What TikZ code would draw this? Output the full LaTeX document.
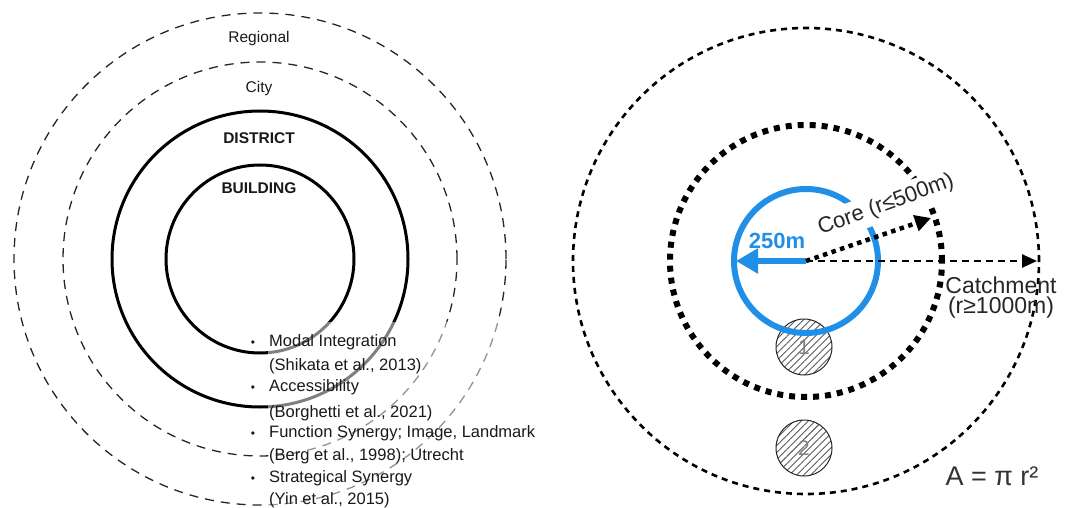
\documentclass[tikz,border=0pt]{standalone}
\usepackage{fontspec}
\setmainfont{Liberation Sans}
\usetikzlibrary{arrows.meta,patterns.meta,calc}
\definecolor{skyblue}{HTML}{1F8FE8}
\begin{document}
\begin{tikzpicture}[x=1pt,y=-1pt,
  thindash/.style={draw=black!85, line width=1.3pt, dash pattern=on 9pt off 7pt},
  solidring/.style={draw=black, line width=3pt},
  ringlabel/.style={font=\fontsize{15.5}{18}\selectfont, text=black!90, inner sep=0pt},
  boldlabel/.style={ringlabel, font=\fontsize{15.5}{18}\selectfont\bfseries},
  itemtext/.style={anchor=base west, inner sep=0pt, text=black!90, font=\fontsize{16.5}{19}\selectfont},
  bulletmark/.style={anchor=base, inner sep=0pt, text=black!90, font=\fontsize{12}{14}\selectfont},
  outerring/.style={draw=black, line width=2.6pt, dash pattern=on 6pt off 5pt},
  corering/.style={draw=black, line width=6pt, dash pattern=on 6pt off 6pt},
  hatchcirc/.style={circle, draw=black!85, line width=1pt, minimum size=56pt, inner sep=0pt,
    pattern={Lines[angle=45,distance=5pt,line width=0.9pt]}, pattern color=black!65,
    text=black!50, font=\fontsize{21}{24}\selectfont},
  bigtext/.style={inner sep=0pt, text=black!85, font=\fontsize{22}{20}\selectfont}
]
\useasboundingbox (0,0) rectangle (1069,508);

% ---------------- left diagram ----------------
\coordinate (L) at (260,259);
\draw[thindash] (L) circle[radius=246pt];
\draw[thindash] (L) circle[radius=197pt];
\draw[solidring] (L) circle[radius=148pt];
\draw[solidring] (L) circle[radius=94pt];

\node[ringlabel] (reg) at (259,38) {Regional};
\node[ringlabel] (city) at (259,88) {City};
\node[boldlabel] (dist) at (259,138) {DISTRICT};
\node[boldlabel] (bldg) at (259,188) {BUILDING};

\fill[white, fill opacity=0.5] (268,322) rectangle (545,508);

\node[bulletmark] (b1) at (253,346) {•};
\node[itemtext] (t1) at (269,346) {Modal Integration};
\node[itemtext] (t2) at (269,370) {(Shikata et al., 2013)};
\node[bulletmark] (b2) at (253,391) {•};
\node[itemtext] (t3) at (269,391) {Accessibility};
\node[itemtext] (t4) at (269,417) {(Borghetti et al., 2021)};
\node[bulletmark] (b3) at (253,437) {•};
\node[itemtext] (t5) at (269,437) {Function Synergy; Image, Landmark};
\node[itemtext] (t6) at (269,460) {(Berg et al., 1998); Utrecht};
\node[bulletmark] (b4) at (253,482) {•};
\node[itemtext] (t7) at (269,482) {Strategical Synergy};
\node[itemtext] (t8) at (269,504) {(Yin et al., 2015)};

% ---------------- right diagram ----------------
\coordinate (R) at (806,261);
\draw[outerring] (R) circle[radius=233pt];
\draw[corering] (R) circle[radius=136pt];

\node[hatchcirc] (h1) at (804,347) {1};
\node[hatchcirc] (h2) at (804,448) {2};

\draw[skyblue, line width=6pt] (R) circle[radius=72pt];

\coordinate (blueend) at (736,261);
\coordinate (coreend) at (931,218);
\coordinate (catchend) at (1037,261);

\draw[skyblue, line width=6pt, -{Triangle[length=22pt,width=24pt]}] (R) -- (blueend);
\draw[black, line width=2.5pt, dash pattern=on 7pt off 5pt, -{Triangle[length=15pt,width=13pt]}] (R) -- (catchend);

\node[bigtext, rotate=20, fill=white, inner xsep=3pt, inner ysep=5pt] (core) at (886,205) {Core (r≤500m)};
\draw[black, line width=4.5pt, dash pattern=on 4.5pt off 4.5pt, -{Triangle[length=16pt,width=16pt]}] (R) -- (coreend);

\node[inner sep=0pt, text=skyblue, font=\fontsize{22}{24}\selectfont\bfseries] (r250) at (777,241) {250m};
\node[bigtext, align=center, font=\fontsize{23}{20}\selectfont] (catch) at (1001,298) {Catchment\\(r≥1000m)};
\node[inner sep=0pt, text=black!80, font=\fontsize{27}{28}\selectfont] (area) at (992,476) {A = π r²};
\end{tikzpicture}
\end{document}
